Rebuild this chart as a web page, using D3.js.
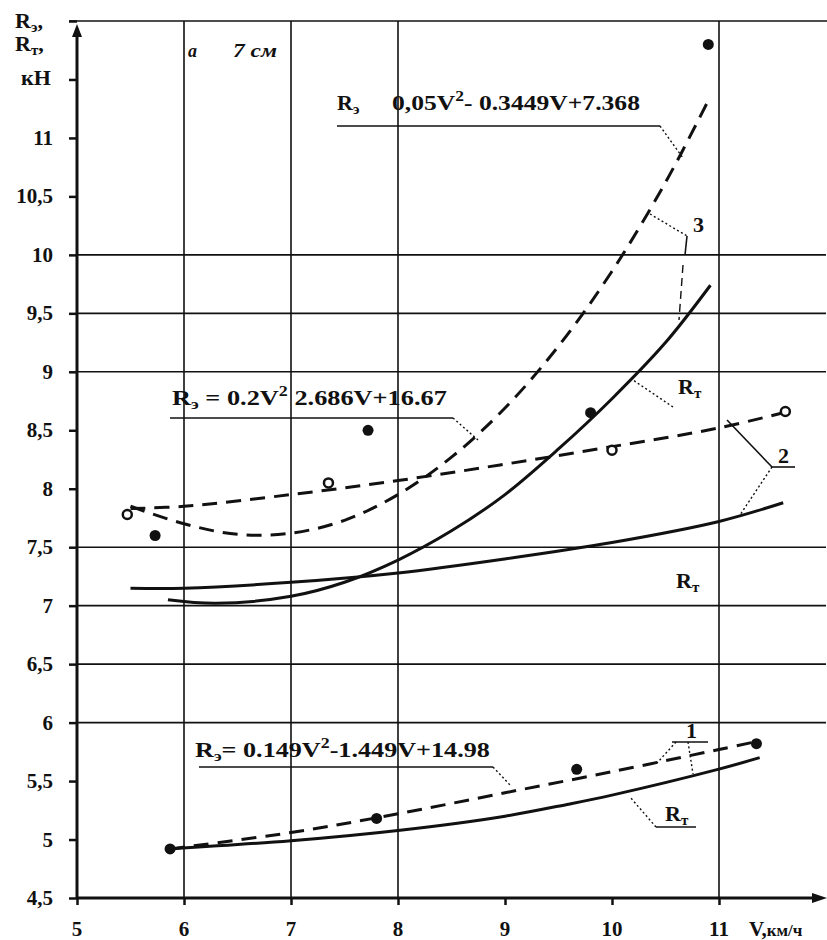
<!DOCTYPE html>
<html><head><meta charset="utf-8">
<script src="https://cdn.jsdelivr.net/npm/d3@7"></script>
<style>
html,body{margin:0;padding:0;background:#fff;}
svg text{font-family:"Liberation Serif","Times New Roman",serif;font-weight:bold;fill:#111;}
</style></head>
<body><svg id="c" width="827" height="940"></svg>
<script>
// ---------- data ----------
const xTicks = [5, 6, 7, 8, 9, 10, 11];
const yTicks = [4.5, 5, 5.5, 6, 6.5, 7, 7.5, 8, 8.5, 9, 9.5, 10, 10.5, 11];
const yTickLabels = ["4,5","5","5,5","6","6,5","7","7,5","8","8,5","9","9,5","10","10,5","11"];
const vGrid = [6, 7, 8, 11];
const hGrid = [6, 6.5, 7, 7.5, 9, 9.5, 10];

// group 3 (upper)
const g3DashV = [5.5, 6.0, 6.5, 7.0, 7.5, 8.0, 8.5, 9.0, 9.5, 10.0, 10.5, 10.9];
const g3DashR = [7.85, 7.70, 7.61, 7.62, 7.73, 7.95, 8.27, 8.69, 9.22, 9.86, 10.62, 11.32];
const g3SolidV = [5.85, 6.3, 7.0, 7.5, 8.0, 8.5, 9.0, 9.5, 10.0, 10.5, 10.92];
const g3SolidR = [7.05, 7.02, 7.08, 7.20, 7.39, 7.64, 7.95, 8.34, 8.77, 9.25, 9.74];
const g3PtsV = [5.73, 7.72, 9.8, 10.9];
const g3PtsR = [7.60, 8.50, 8.65, 11.80];

// group 2 (middle)
const g2DashV = [5.5, 6.0, 7.0, 8.0, 9.0, 10.0, 11.0, 11.6];
const g2DashR = [7.83, 7.85, 7.95, 8.07, 8.21, 8.36, 8.52, 8.65];
const g2SolidV = [5.5, 6.0, 7.0, 8.0, 9.0, 10.0, 11.0, 11.6];
const g2SolidR = [7.15, 7.15, 7.20, 7.28, 7.40, 7.54, 7.72, 7.88];
const g2PtsV = [5.47, 7.35, 10.0, 11.62];
const g2PtsR = [7.78, 8.05, 8.33, 8.66];

// group 1 (lower)
const g1DashV = [5.87, 7.0, 8.0, 9.0, 10.0, 11.0, 11.36];
const g1DashR = [4.92, 5.06, 5.22, 5.40, 5.58, 5.77, 5.84];
const g1SolidV = [5.87, 7.0, 8.02, 9.0, 9.58, 10.0, 10.99, 11.38];
const g1SolidR = [4.92, 4.99, 5.08, 5.20, 5.30, 5.38, 5.60, 5.70];
const g1PtsV = [5.87, 7.8, 9.67, 11.35];
const g1PtsR = [4.92, 5.18, 5.60, 5.82];

// ---------- drawing ----------
const svg = d3.select("#c");
const x = d3.scaleLinear().domain([5, 12]).range([77, 826]);
const y = d3.scaleLinear().domain([4.5, 12]).range([898, 21]);

function fit(t, x0, w) {
  const bw = t.node().getBBox().width;
  const s = w / bw;
  t.attr("transform", `translate(${x0},0) scale(${s},1) translate(${-x0},0)`);
}

// grid
svg.append("g").selectAll("line").data(vGrid).join("line")
  .attr("x1", d => x(d)).attr("x2", d => x(d)).attr("y1", y(12)).attr("y2", y(4.5))
  .attr("stroke", "#111").attr("stroke-width", 1.6);
svg.append("g").selectAll("line").data(hGrid).join("line")
  .attr("x1", x(5)).attr("x2", x(12)).attr("y1", d => y(d)).attr("y2", d => y(d))
  .attr("stroke", "#111").attr("stroke-width", 1.6);
svg.append("line").attr("x1", x(5) - 8).attr("x2", 827).attr("y1", y(12)).attr("y2", y(12))
  .attr("stroke", "#111").attr("stroke-width", 1.6);

// axes
const yAxis = d3.axisLeft(y).tickValues(yTicks.concat([11.5, 12])).tickSize(8).tickFormat("");
const ga = svg.append("g").attr("transform", `translate(${x(5)},0)`).call(yAxis);
ga.select(".domain").remove();
ga.selectAll(".tick line").attr("stroke", "#111").attr("stroke-width", 2.5);
svg.append("line").attr("x1", x(5)).attr("x2", x(5)).attr("y1", y(4.5)).attr("y2", 30)
  .attr("stroke", "#111").attr("stroke-width", 3);
svg.append("path").attr("d", `M${x(5)},24 L${x(5)-5},37 L${x(5)+5},37 Z`).attr("fill", "#111");

const xAxis = d3.axisBottom(x).tickValues(xTicks).tickSize(7).tickFormat("");
const gx = svg.append("g").attr("transform", `translate(0,${y(4.5)})`).call(xAxis);
gx.select(".domain").remove();
gx.selectAll(".tick line").attr("stroke", "#111").attr("stroke-width", 2.5);
svg.append("line").attr("x1", x(5)).attr("x2", 815).attr("y1", y(4.5)).attr("y2", y(4.5))
  .attr("stroke", "#111").attr("stroke-width", 3);
svg.append("path").attr("d", `M827,${y(4.5)} L812,${y(4.5)-5} L812,${y(4.5)+5} Z`).attr("fill", "#111");

// tick labels
svg.append("g").selectAll("text").data(yTicks).join("text")
  .attr("x", 53).attr("y", d => y(d) + 7).attr("text-anchor", "end")
  .attr("font-size", 21).text((d, i) => yTickLabels[i]);
svg.append("g").selectAll("text").data(xTicks).join("text")
  .attr("x", d => x(d)).attr("y", 936).attr("text-anchor", "middle")
  .attr("font-size", 21).text(d => d);
const vl = svg.append("text").attr("x", 749).attr("y", 936).attr("font-size", 21);
vl.append("tspan").text("V,");
vl.append("tspan").attr("font-size", 17).text("км/ч");

// axis title
const tt = svg.append("g");
function rsub(g, xx, yy, sub, tail) {
  const t = g.append("text").attr("x", xx).attr("y", yy).attr("font-size", 22);
  t.append("tspan").text("R");
  t.append("tspan").attr("font-size", 15).attr("dy", 4).text(sub);
  if (tail) t.append("tspan").attr("dy", -4).text(tail);
  return t;
}
rsub(tt, 15, 28, "э", ",");
rsub(tt, 15, 51, "т", ",");
tt.append("text").attr("x", 21).attr("y", 85).attr("font-size", 22).text("кН");

// curves
const line = d3.line().x(d => x(d[0])).y(d => y(d[1])).curve(d3.curveCatmullRom.alpha(0.5));
function curve(vs, rs, dashed) {
  svg.append("path").datum(vs.map((v, i) => [v, rs[i]])).attr("d", line)
    .attr("fill", "none").attr("stroke", "#111").attr("stroke-width", 3)
    .attr("stroke-dasharray", dashed ? "15,9" : null);
}
curve(g3DashV, g3DashR, true);
curve(g3SolidV, g3SolidR, false);
curve(g2DashV, g2DashR, true);
curve(g2SolidV, g2SolidR, false);
curve(g1DashV, g1DashR, true);
curve(g1SolidV, g1SolidR, false);

// markers
function dots(vs, rs, hollow) {
  svg.append("g").selectAll("circle").data(vs.map((v, i) => [v, rs[i]])).join("circle")
    .attr("cx", d => x(d[0])).attr("cy", d => y(d[1])).attr("r", hollow ? 4.5 : 5.5)
    .attr("fill", hollow ? "#fff" : "#111").attr("stroke", "#111").attr("stroke-width", hollow ? 2.5 : 0);
}
dots(g3PtsV, g3PtsR, false);
dots(g2PtsV, g2PtsR, true);
dots(g1PtsV, g1PtsR, false);

// annotations
const ann = svg.append("g");
function seg(pts, style) {
  ann.append("path").attr("d", d3.line()(pts)).attr("fill", "none").attr("stroke", "#111")
    .attr("stroke-width", style === "solid" ? 1.6 : 1.4)
    .attr("stroke-dasharray", style === "dot" ? "2,2.5" : (style === "dash" ? "8,5" : null));
}
function eqText(xx, yy, withR, parts) {
  const t = ann.append("text").attr("x", xx).attr("y", yy).attr("font-size", 22);
  if (withR) {
    t.append("tspan").text("R");
    t.append("tspan").attr("font-size", 15).attr("dy", 4).text("э");
  }
  parts.forEach(p => {
    const s = t.append("tspan").text(p.t);
    if (p.dy !== undefined) s.attr("dy", p.dy);
    if (p.fs) s.attr("font-size", p.fs);
  });
  return t;
}
// equation 1
eqText(337, 110, true, []);
fit(eqText(392, 110, false, [
  {t: "0,05V"}, {t: "2", dy: -9, fs: 15}, {t: "- 0.3449V+7.368", dy: 9}
]), 392, 248);
seg([[337, 126], [660, 126]], "solid");
seg([[660, 126], [683, 158]], "dot");
// equation 2
fit(eqText(172, 405, true, [
  {t: " = 0.2V", dy: -4}, {t: "2", dy: -9, fs: 15}, {t: "  2.686V+16.67", dy: 9}
]), 172, 275);
seg([[170, 418], [453, 418]], "solid");
seg([[453, 418], [478, 440]], "dot");
// equation 3
fit(eqText(195, 757, true, [
  {t: "= 0.149V", dy: -4}, {t: "2", dy: -9, fs: 15}, {t: "-1.449V+14.98", dy: 9}
]), 195, 295);
seg([[199, 767], [493, 767]], "solid");
seg([[493, 767], [510, 785]], "dot");

// "a 7 cm"
ann.append("text").attr("x", 188).attr("y", 57).attr("font-size", 18).attr("font-style", "italic").text("а");
fit(ann.append("text").attr("x", 233).attr("y", 57).attr("font-size", 18).attr("font-style", "italic").text("7 см"), 233, 44);

// label 3
ann.append("text").attr("x", 693).attr("y", 232).attr("font-size", 22).text("3");
seg([[650, 214], [687, 236]], "dot");
seg([[687, 236], [685, 255]], "solid");
seg([[683, 265], [679, 320]], "dash");
// R_T (group 3)
rsub(ann, 678, 394, "т");
seg([[673, 407], [633, 380]], "dot");
// label 2
ann.append("text").attr("x", 778).attr("y", 463).attr("font-size", 22).text("2");
seg([[772, 467], [795, 467]], "solid");
seg([[772, 467], [727, 420]], "solid");
seg([[772, 467], [740, 515]], "dot");
// R_T (group 2)
rsub(ann, 676, 588, "т");
// label 1
ann.append("text").attr("x", 686).attr("y", 738).attr("font-size", 22).text("1");
seg([[672, 742], [708, 742]], "solid");
seg([[676, 742], [657, 763]], "dot");
seg([[688, 742], [693, 774]], "dot");
// R_T (group 1)
rsub(ann, 665, 821, "т");
seg([[656, 827], [696, 827]], "solid");
seg([[656, 827], [630, 797]], "dot");
</script></body></html>
